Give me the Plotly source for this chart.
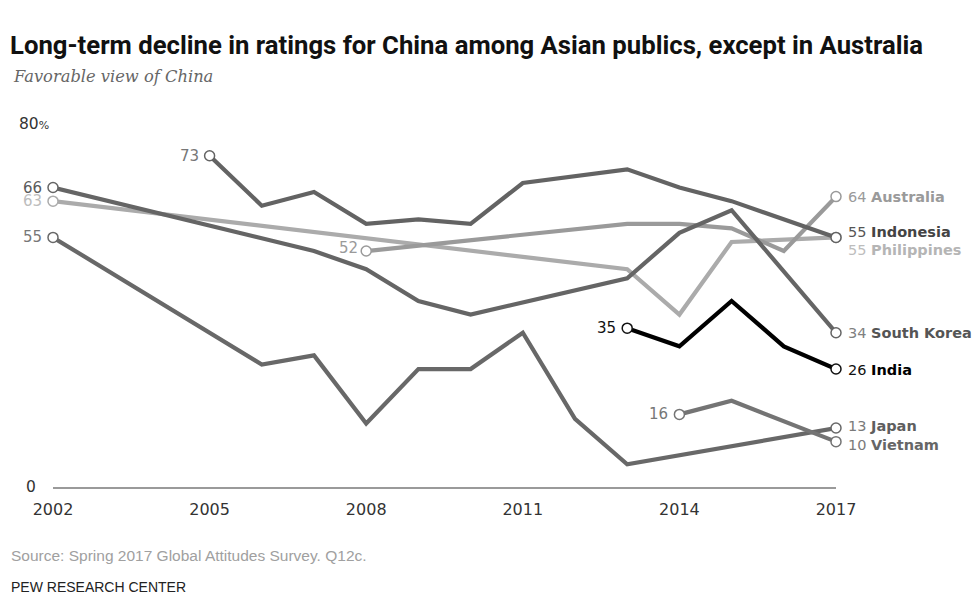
import plotly.graph_objects as go

# ---------------- text ----------------
title_text = "Long-term decline in ratings for China among Asian publics, except in Australia"
subtitle_text = "Favorable view of China"
source_text = "Source: Spring 2017 Global Attitudes Survey. Q12c."
credit_text = "PEW RESEARCH CENTER"

# ---------------- axes ----------------
x_tick_vals = [2002, 2005, 2008, 2011, 2014, 2017]
y_tick_vals = [0, 80]
y_tick_labels = ["0", "80<span style='font-size:11px'>%</span>"]

# ---------------- data (favorable view of China, %) ----------------
philippines_years = [2002, 2013, 2014, 2015, 2017]
philippines_vals = [63, 48, 38, 54, 55]

australia_years = [2008, 2013, 2014, 2015, 2016, 2017]
australia_vals = [52, 58, 58, 57, 52, 64]

japan_years = [2002, 2006, 2007, 2008, 2009, 2010, 2011, 2012, 2013, 2014, 2015, 2016, 2017]
japan_vals = [55, 27, 29, 14, 26, 26, 34, 15, 5, 7, 9, 11, 13]

vietnam_years = [2014, 2015, 2017]
vietnam_vals = [16, 19, 10]

skorea_years = [2002, 2007, 2008, 2009, 2010, 2013, 2014, 2015, 2017]
skorea_vals = [66, 52, 48, 41, 38, 46, 56, 61, 34]

indonesia_years = [2005, 2006, 2007, 2008, 2009, 2010, 2011, 2013, 2014, 2015, 2017]
indonesia_vals = [73, 62, 65, 58, 59, 58, 67, 70, 66, 63, 55]

india_years = [2013, 2014, 2015, 2016, 2017]
india_vals = [35, 31, 41, 31, 26]

# ---------------- styling ----------------
# The page body has an 8px margin, so pixel targets are offset by it,
# and the figure is sized so that it fits the 980x615 window without scrolling.
OFF = 8
FIG_W, FIG_H = 980 - 2 * OFF, 615 - 2 * OFF
PL, PT, PW, PH = 53 - OFF, 124 - OFF, 783, 363   # plot area left/top/width/height

series = [
    ("Philippines", philippines_years, philippines_vals, "#ababab", "#bdbdbd", "#bdbdbd", "#b5b5b5", -13, (-9, 0)),
    ("Australia", australia_years, australia_vals, "#9a9a9a", "#9a9a9a", "#9a9a9a", "#9a9a9a", 0, (-6, 3)),
    ("Japan", japan_years, japan_vals, "#686868", "#777777", "#7a7a7a", "#5e5e5e", 2, (-9, 0)),
    ("Vietnam", vietnam_years, vietnam_vals, "#747474", "#777777", "#7a7a7a", "#666666", -3, (-9, 0)),
    ("South Korea", skorea_years, skorea_vals, "#656565", "#5a5a5a", "#808080", "#555555", 0, (-9, 0)),
    ("Indonesia", indonesia_years, indonesia_vals, "#636363", "#777777", "#555555", "#444444", 5, (-9, 0)),
    ("India", india_years, india_vals, "#000000", "#111111", "#111111", "#000000", -1, (-9, 0)),
]

LABEL_FONT = "DejaVu Sans"


def px_x(p):
    return (p - OFF - PL) / PW


def px_y(p):
    return (PT + PH - (p - OFF)) / PH


fig = go.Figure()
annotations = []

for name, yrs, vals, lc, startc, numc, namec, yshift_end, (sx, sy) in series:
    fig.add_trace(go.Scatter(
        x=yrs, y=vals, mode="lines",
        line=dict(color=lc, width=4.2),
        cliponaxis=False, showlegend=False, hoverinfo="skip",
    ))
    fig.add_trace(go.Scatter(
        x=[yrs[0], yrs[-1]], y=[vals[0], vals[-1]], mode="markers",
        marker=dict(size=10, color="white", line=dict(color=lc if lc != "#000000" else "#111111", width=1.5)),
        cliponaxis=False, showlegend=False, hoverinfo="skip",
    ))
    annotations.append(dict(
        x=yrs[0], y=vals[0], xref="x", yref="y", text=str(vals[0]),
        showarrow=False, xanchor="right", yanchor="middle",
        xshift=sx, yshift=sy,
        font=dict(family=LABEL_FONT, size=15, color=startc),
    ))
    annotations.append(dict(
        x=yrs[-1], y=vals[-1], xref="x", yref="y",
        text=f"<span style='color:{numc}'>{vals[-1]}</span> <b>{name}</b>",
        showarrow=False, xanchor="left", yanchor="middle",
        xshift=10, yshift=yshift_end,
        font=dict(family=LABEL_FONT, size=14.5, color=namec),
    ))

# y-axis labels (0 and 80%)
for v, lab, xpx in zip(y_tick_vals, y_tick_labels, [38, 51]):
    annotations.append(dict(
        x=px_x(xpx), y=v, xref="paper", yref="y", text=lab,
        showarrow=False, xanchor="right", yanchor="middle",
        font=dict(family=LABEL_FONT, size=15.5, color="#333333"),
    ))

annotations.append(dict(
    x=px_x(11), y=px_y(77), xref="paper", yref="paper",
    text=f"<i>{subtitle_text}</i>", showarrow=False, xanchor="left", yanchor="middle",
    font=dict(family="DejaVu Serif", size=16.3, color="#666666"),
))
annotations.append(dict(
    x=px_x(9), y=px_y(555), xref="paper", yref="paper",
    text=source_text, showarrow=False, xanchor="left", yanchor="middle",
    font=dict(family="Liberation Sans", size=15.5, color="#a0a0a0"),
))
annotations.append(dict(
    x=px_x(9), y=px_y(587), xref="paper", yref="paper",
    text=credit_text, showarrow=False, xanchor="left", yanchor="middle",
    font=dict(family="Liberation Sans", size=14, color="#222222"),
))

fig.update_layout(
    width=FIG_W, height=FIG_H,
    margin=dict(l=PL, r=FIG_W - PL - PW, t=PT, b=FIG_H - PT - PH, autoexpand=False),
    paper_bgcolor="white", plot_bgcolor="white",
    title=dict(
        text=f"<b>{title_text}</b>",
        x=(10 - OFF) / FIG_W, xanchor="left", xref="container",
        y=1 - (45 - OFF) / FIG_H, yanchor="middle", yref="container",
        font=dict(family="Roboto", size=25.7, color="#111111"),
    ),
    xaxis=dict(
        range=[2002, 2017], tickvals=x_tick_vals, ticktext=[str(v) for v in x_tick_vals],
        showgrid=False, zeroline=False, showline=True, linecolor="#9a9a9a", linewidth=1.5,
        ticks="", ticklabelstandoff=7,
        tickfont=dict(family=LABEL_FONT, size=16, color="#333333"),
        fixedrange=True,
    ),
    yaxis=dict(
        range=[0, 80], showgrid=False, zeroline=False, showline=False,
        showticklabels=False, ticks="", fixedrange=True,
    ),
    annotations=annotations,
)

fig.write_html("out.html")
